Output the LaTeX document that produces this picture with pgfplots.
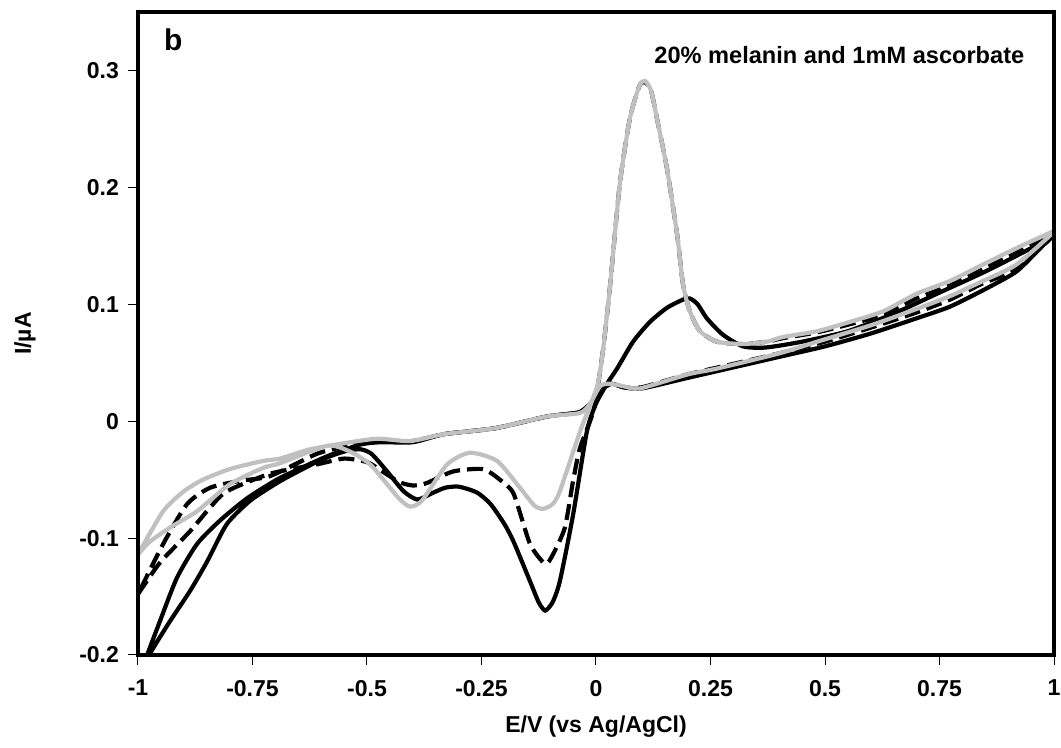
\documentclass[border=0pt]{standalone}
\usepackage{fontspec}
\setmainfont{Liberation Sans}
\usepackage{pgfplots}
\pgfplotsset{compat=1.18}
\definecolor{cvgray}{RGB}{192,192,192}

\begin{document}
\begin{tikzpicture}
\begin{axis}[
    scale only axis,
    width=458pt, height=321.5pt,
    xmin=-1, xmax=1, ymin=-0.2, ymax=0.35,
    axis on top,
    axis line style={line width=1.75pt},
    xtick={-1,-0.75,-0.5,-0.25,0,0.25,0.5,0.75,1},
    xticklabels={-1,-0.75,-0.5,-0.25,0,0.25,0.5,0.75,1},
    ytick={-0.2,-0.1,0,0.1,0.2,0.3},
    yticklabels={-0.2,-0.1,0,0.1,0.2,0.3},
    tick align=outside, xtick pos=bottom, ytick pos=left,
    major tick length=5pt,
    tick style={line width=0.5pt, black},
    ticklabel style={font=\fontsize{11.5}{13}\selectfont\bfseries},
    xticklabel style={yshift=-4pt},
    yticklabel style={xshift=-1pt},
    xlabel={E/V (vs Ag/AgCl)},
    xlabel style={font=\fontsize{11.5}{13}\selectfont\bfseries, yshift=-3pt},
    clip=true,
]
% black solid
\addplot[black, line width=2.1pt, smooth, tension=0.4] coordinates {
(-0.985,-0.212) (-0.974,-0.199) (-0.93,-0.171) (-0.886,-0.145) (-0.849,-0.12)
(-0.806,-0.088) (-0.755,-0.068) (-0.697,-0.053) (-0.66,-0.045) (-0.6,-0.033)
(-0.55,-0.026) (-0.515,-0.024) (-0.49,-0.028) (-0.456,-0.043) (-0.42,-0.06)
(-0.39,-0.067) (-0.36,-0.062) (-0.33,-0.057) (-0.30,-0.056) (-0.26,-0.061)
(-0.23,-0.071) (-0.2,-0.088) (-0.18,-0.103) (-0.144,-0.137) (-0.125,-0.155)
(-0.111,-0.162) (-0.095,-0.155) (-0.079,-0.137) (-0.05,-0.08) (-0.02,-0.009)
(0.0,0.015) (0.024,0.032) (0.046,0.045) (0.081,0.068) (0.118,0.085)
(0.155,0.097) (0.19,0.104) (0.205,0.105) (0.222,0.1) (0.242,0.088)
(0.277,0.074) (0.321,0.064) (0.37,0.063) (0.45,0.068) (0.55,0.077)
(0.65,0.092) (0.75,0.11) (0.85,0.128) (0.95,0.148) (1.0,0.16)
(0.97,0.148) (0.918,0.128) (0.85,0.113) (0.773,0.098) (0.7,0.088)
(0.6,0.075) (0.5,0.064) (0.4,0.055) (0.3,0.046) (0.2,0.037)
(0.1,0.028) (0.06,0.029) (0.035,0.032) (0.015,0.028) (0.0,0.02)
(-0.035,0.008) (-0.107,0.004) (-0.22,-0.006) (-0.33,-0.011) (-0.4,-0.018)
(-0.47,-0.018) (-0.515,-0.02) (-0.587,-0.03) (-0.66,-0.043) (-0.697,-0.05)
(-0.762,-0.066) (-0.821,-0.085) (-0.871,-0.105) (-0.915,-0.134) (-0.952,-0.171)
(-0.98,-0.2) (-0.99,-0.212)
};
% black dashed
\addplot[black, line width=2.1pt, dash pattern=on 8pt off 3.5pt, smooth, tension=0.4] coordinates {
(-1.0,-0.148) (-0.952,-0.121) (-0.886,-0.094) (-0.843,-0.074) (-0.806,-0.06)
(-0.712,-0.045) (-0.61,-0.037) (-0.55,-0.032) (-0.5,-0.035) (-0.47,-0.042)
(-0.43,-0.052) (-0.4,-0.055) (-0.37,-0.053) (-0.312,-0.043) (-0.247,-0.041)
(-0.21,-0.05) (-0.18,-0.062) (-0.144,-0.105) (-0.111,-0.122) (-0.094,-0.114)
(-0.068,-0.091) (-0.05,-0.051) (-0.035,-0.023) (-0.005,0.01) (0.015,0.06)
(0.031,0.117) (0.052,0.203) (0.074,0.259) (0.095,0.287) (0.107,0.29)
(0.12,0.283) (0.133,0.259) (0.155,0.216) (0.177,0.16) (0.19,0.117)
(0.205,0.094) (0.227,0.077) (0.264,0.068) (0.321,0.066) (0.373,0.068)
(0.408,0.071) (0.483,0.076) (0.555,0.083) (0.627,0.091) (0.7,0.105)
(0.773,0.116) (0.845,0.13) (0.918,0.144) (1.0,0.16)
(0.918,0.13) (0.845,0.118) (0.773,0.104) (0.7,0.093) (0.6,0.08)
(0.5,0.068) (0.4,0.058) (0.3,0.049) (0.2,0.04) (0.1,0.029)
(0.06,0.029) (0.035,0.032) (0.015,0.028) (0.0,0.02) (-0.035,0.008)
(-0.107,0.004) (-0.22,-0.006) (-0.33,-0.011) (-0.4,-0.017) (-0.47,-0.017)
(-0.55,-0.022) (-0.61,-0.028) (-0.712,-0.047) (-0.777,-0.051) (-0.843,-0.057)
(-0.893,-0.071) (-0.945,-0.105) (-1.0,-0.148)
};
% gray solid
\addplot[cvgray, line width=2.1pt, smooth, tension=0.4] coordinates {
(-1.0,-0.114) (-0.974,-0.103) (-0.93,-0.091) (-0.871,-0.077) (-0.8,-0.054)
(-0.727,-0.04) (-0.69,-0.036) (-0.587,-0.021) (-0.537,-0.026) (-0.493,-0.037)
(-0.456,-0.054) (-0.428,-0.067) (-0.406,-0.073) (-0.38,-0.068) (-0.325,-0.037)
(-0.275,-0.027) (-0.216,-0.034) (-0.166,-0.057) (-0.135,-0.072) (-0.116,-0.075)
(-0.095,-0.071) (-0.079,-0.06) (-0.035,-0.009) (-0.013,0.013) (0.004,0.032)
(0.015,0.06) (0.031,0.117) (0.052,0.203) (0.074,0.259) (0.095,0.287)
(0.107,0.291) (0.12,0.283) (0.133,0.259) (0.155,0.216) (0.177,0.16)
(0.19,0.117) (0.205,0.094) (0.227,0.077) (0.264,0.068) (0.321,0.066)
(0.373,0.068) (0.408,0.072) (0.483,0.077) (0.555,0.085) (0.627,0.094)
(0.7,0.109) (0.773,0.12) (0.845,0.134) (0.918,0.148) (0.985,0.16) (1.0,0.162)
(0.918,0.134) (0.845,0.12) (0.773,0.107) (0.7,0.096) (0.6,0.082)
(0.483,0.068) (0.4,0.058) (0.264,0.045) (0.2,0.04) (0.096,0.028)
(0.059,0.03) (0.03,0.032) (0.009,0.03) (-0.013,0.015) (-0.035,0.007)
(-0.107,0.004) (-0.22,-0.006) (-0.33,-0.011) (-0.406,-0.017) (-0.478,-0.015)
(-0.552,-0.019) (-0.624,-0.024) (-0.69,-0.032) (-0.727,-0.034) (-0.8,-0.041)
(-0.858,-0.05) (-0.9,-0.06) (-0.945,-0.077) (-1.0,-0.114)
};
\node[anchor=north west, font=\fontsize{15}{17}\selectfont\bfseries, inner sep=0pt]
    at (rel axis cs:0.028,0.975) {b};
\node[anchor=east, font=\fontsize{11.8}{14}\selectfont\bfseries, inner sep=0pt]
    at (rel axis cs:0.968,0.933) {20\% melanin and 1mM ascorbate};
\end{axis}
\node[rotate=90, font=\fontsize{11.5}{13}\selectfont\bfseries, inner sep=0pt]
    at ([xshift=-56.5pt]current axis.west) {I/\textmu A};
\pgfresetboundingbox
\path (current axis.south west) +(-69pt,-46.5pt) (current axis.north east) +(3.5pt,6pt);
\end{tikzpicture}
\end{document}
